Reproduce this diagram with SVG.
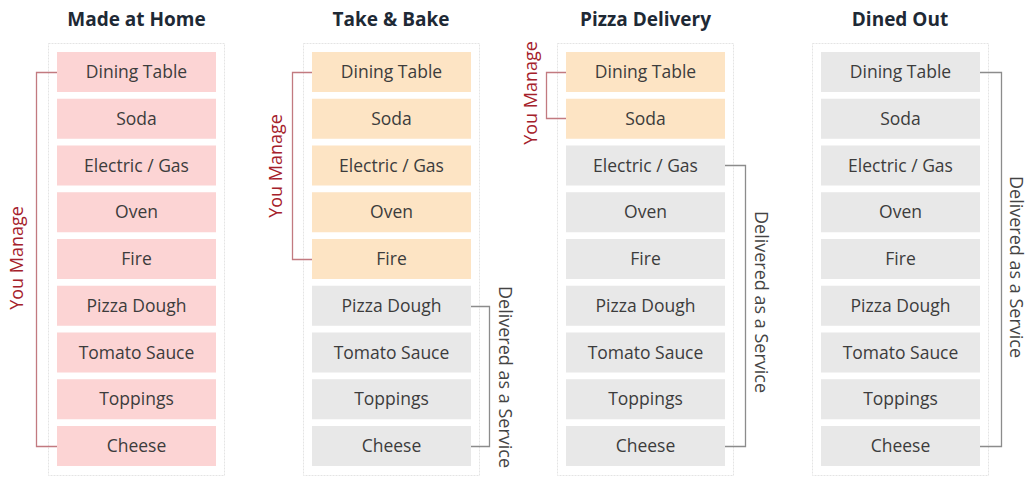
<svg xmlns="http://www.w3.org/2000/svg" width="1033" height="477" viewBox="0 0 1033 477">
<style>
text{font-family:"Open Sans","Noto Sans","Liberation Sans",sans-serif}
.title{font-size:19px;font-weight:700;fill:#1e2935;text-anchor:middle}
.item{font-size:17.5px;fill:#3c3c3c;text-anchor:middle}
.frame{fill:#fff;stroke:#e4e4e4;stroke-width:1;stroke-dasharray:2 1}
.pink{fill:#fcd4d4}
.orange{fill:#fde4c4}
.gray{fill:#e8e8e8}
.br-red{fill:none;stroke:#c27a80;stroke-width:1.3}
.br-gray{fill:none;stroke:#8c8c8c;stroke-width:1.3}
.lbl-red{font-size:18px;fill:#a5202a;text-anchor:middle}
.lbl-gray{font-size:18px;fill:#444;text-anchor:middle}
</style>
<rect width="1033" height="477" fill="#fff"/>
<defs>
<g id="rows">
<text class="item" x="79.5" y="78">Dining Table</text>
<text class="item" x="79.5" y="124.75">Soda</text>
<text class="item" x="79.5" y="171.5">Electric / Gas</text>
<text class="item" x="79.5" y="218.25">Oven</text>
<text class="item" x="79.5" y="265">Fire</text>
<text class="item" x="79.5" y="311.75">Pizza Dough</text>
<text class="item" x="79.5" y="358.5">Tomato Sauce</text>
<text class="item" x="79.5" y="405.25">Toppings</text>
<text class="item" x="79.5" y="452">Cheese</text>
</g>
</defs>

<g id="col-home">
<text class="title" x="136.5" y="26">Made at Home</text>
<rect class="frame" x="48.5" y="43.5" width="176" height="432"/>
<rect class="pink" x="57" y="52" width="159" height="40"/>
<rect class="pink" x="57" y="98.75" width="159" height="40"/>
<rect class="pink" x="57" y="145.5" width="159" height="40"/>
<rect class="pink" x="57" y="192.25" width="159" height="40"/>
<rect class="pink" x="57" y="239" width="159" height="40"/>
<rect class="pink" x="57" y="285.75" width="159" height="40"/>
<rect class="pink" x="57" y="332.5" width="159" height="40"/>
<rect class="pink" x="57" y="379.25" width="159" height="40"/>
<rect class="pink" x="57" y="426" width="159" height="40"/>
<use href="#rows" x="57"/>
<text class="lbl-red" transform="translate(23,258) rotate(-90)">You Manage</text>
</g>

<g id="col-takebake">
<text class="title" x="391" y="26">Take &amp; Bake</text>
<rect class="frame" x="303.5" y="43.5" width="176" height="432"/>
<rect class="orange" x="312" y="52" width="159" height="40"/>
<rect class="orange" x="312" y="98.75" width="159" height="40"/>
<rect class="orange" x="312" y="145.5" width="159" height="40"/>
<rect class="orange" x="312" y="192.25" width="159" height="40"/>
<rect class="orange" x="312" y="239" width="159" height="40"/>
<rect class="gray" x="312" y="285.75" width="159" height="40"/>
<rect class="gray" x="312" y="332.5" width="159" height="40"/>
<rect class="gray" x="312" y="379.25" width="159" height="40"/>
<rect class="gray" x="312" y="426" width="159" height="40"/>
<use href="#rows" x="312"/>
<text class="lbl-red" transform="translate(282,166) rotate(-90)">You Manage</text>
<text class="lbl-gray" transform="translate(499,377) rotate(90)">Delivered as a Service</text>
</g>

<g id="col-delivery">
<text class="title" x="645.5" y="26">Pizza Delivery</text>
<rect class="frame" x="557.5" y="43.5" width="176" height="432"/>
<rect class="orange" x="566" y="52" width="159" height="40"/>
<rect class="orange" x="566" y="98.75" width="159" height="40"/>
<rect class="gray" x="566" y="145.5" width="159" height="40"/>
<rect class="gray" x="566" y="192.25" width="159" height="40"/>
<rect class="gray" x="566" y="239" width="159" height="40"/>
<rect class="gray" x="566" y="285.75" width="159" height="40"/>
<rect class="gray" x="566" y="332.5" width="159" height="40"/>
<rect class="gray" x="566" y="379.25" width="159" height="40"/>
<rect class="gray" x="566" y="426" width="159" height="40"/>
<use href="#rows" x="566"/>
<text class="lbl-red" transform="translate(537,93) rotate(-90)">You Manage</text>
<text class="lbl-gray" transform="translate(755,302) rotate(90)">Delivered as a Service</text>
</g>

<g id="col-dinedout">
<text class="title" x="900" y="26">Dined Out</text>
<rect class="frame" x="812.5" y="43.5" width="176" height="432"/>
<rect class="gray" x="821" y="52" width="159" height="40"/>
<rect class="gray" x="821" y="98.75" width="159" height="40"/>
<rect class="gray" x="821" y="145.5" width="159" height="40"/>
<rect class="gray" x="821" y="192.25" width="159" height="40"/>
<rect class="gray" x="821" y="239" width="159" height="40"/>
<rect class="gray" x="821" y="285.75" width="159" height="40"/>
<rect class="gray" x="821" y="332.5" width="159" height="40"/>
<rect class="gray" x="821" y="379.25" width="159" height="40"/>
<rect class="gray" x="821" y="426" width="159" height="40"/>
<use href="#rows" x="821"/>
<text class="lbl-gray" transform="translate(1010,267) rotate(90)">Delivered as a Service</text>
</g>

<g id="connectors">
<path class="br-red" d="M57,72.5 H36.5 V446.5 H57"/>
<path class="br-red" d="M312,72.5 H292.5 V259.5 H312"/>
<path class="br-gray" d="M471,306.5 H489.5 V446.5 H471"/>
<path class="br-red" d="M566,72.5 H546.5 V118.5 H566"/>
<path class="br-gray" d="M725,165.5 H745.5 V446.5 H725"/>
<path class="br-gray" d="M980,72.5 H1001.5 V446.5 H980"/>
</g>
</svg>
